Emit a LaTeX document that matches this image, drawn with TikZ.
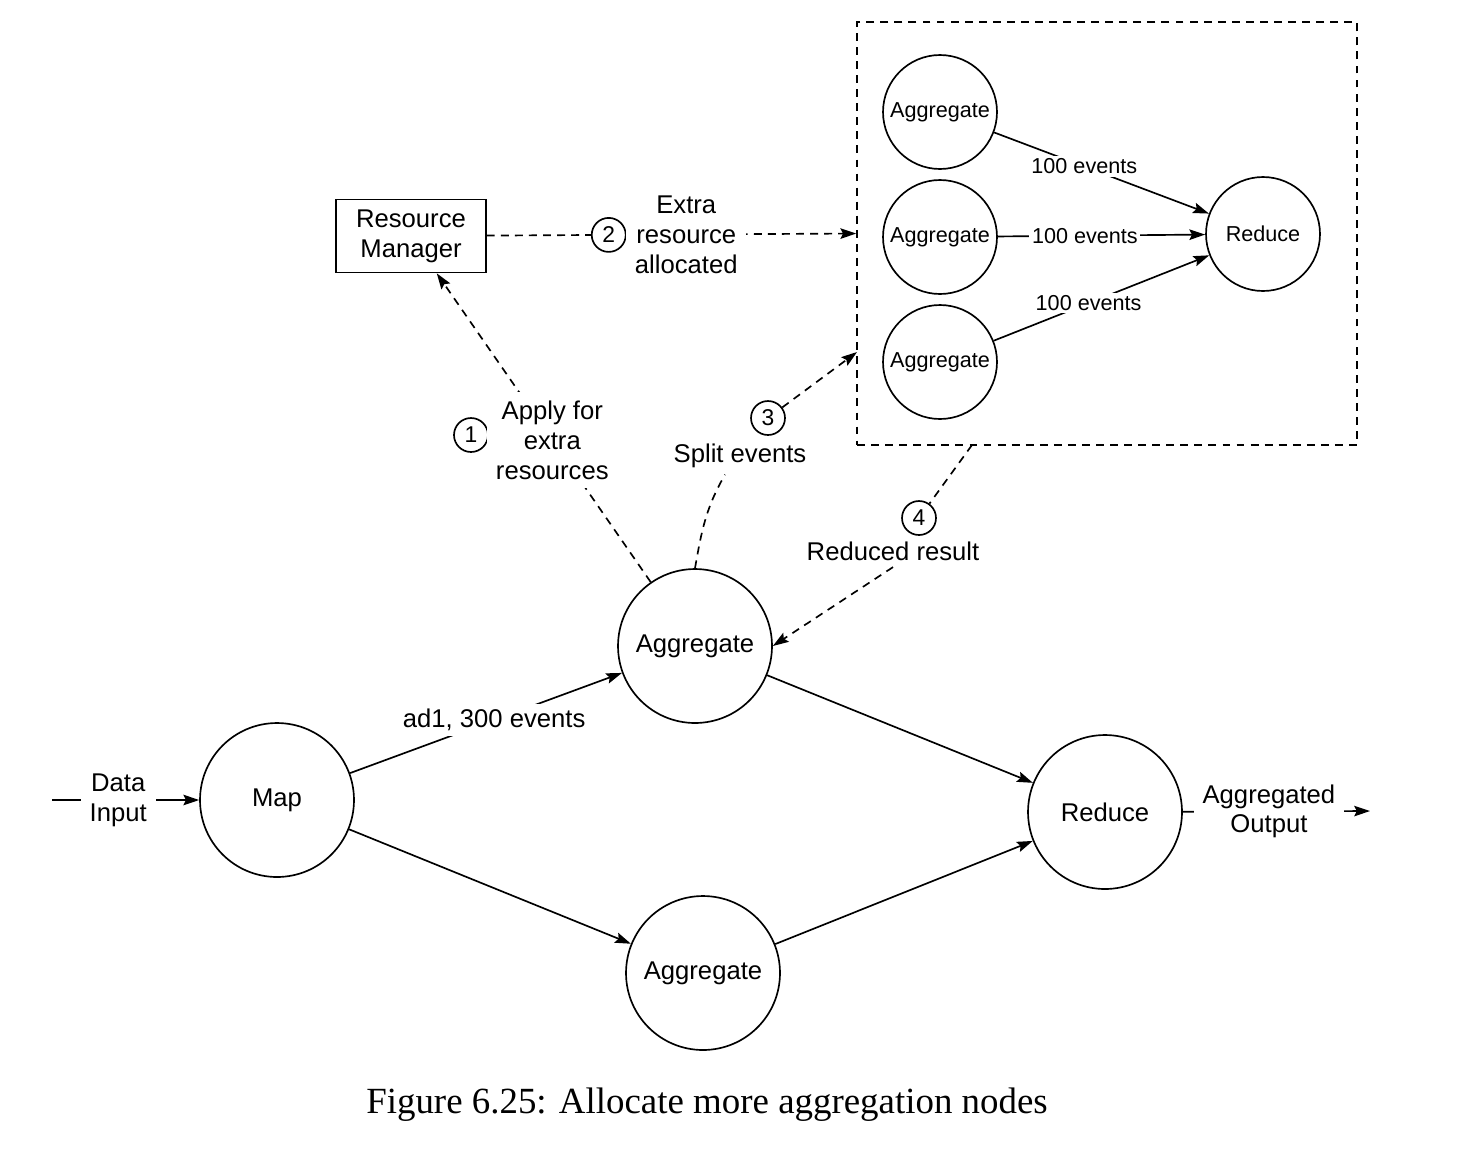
\documentclass[tikz,border=0pt]{standalone}
\usepackage{fontspec}
\setmainfont{Liberation Sans}
\newfontfamily\capfont{Liberation Serif}
\usetikzlibrary{arrows.meta}

\tikzset{
	proc/.style={circle, draw, minimum size=3.08cm, inner sep=0pt},
	subproc/.style={circle, draw, minimum size=2.28cm, inner sep=0pt, font=\fontsize{12.3}{14}\selectfont},
	num/.style={circle, draw, solid, fill=white, minimum size=0.68cm, inner sep=0pt, font=\fontsize{13}{15}\selectfont},
	note/.style={fill=white, align=center, inner sep=5pt},
	evlabel/.style={fill=white, inner sep=1.5pt, font=\fontsize{12.3}{14}\selectfont},
	flow/.style={dash pattern=on 4.5pt off 3.5pt},
}

\begin{document}
\begin{tikzpicture}[x=0.02cm, y=0.02cm, line width=0.95pt, >={Stealth[length=9pt,width=6pt,inset=1.5pt]}, font=\fontsize{14.6}{17}\selectfont]
	\useasboundingbox (0,0) rectangle (1480,-1154);

	% main pipeline
	\node (map)  at ( 277, -800)	[proc]	{Map};
	\node (aggM) at ( 695, -646)	[proc]	{Aggregate};
	\node (aggB) at ( 703, -973)	[proc]	{Aggregate};
	\node (red)  at (1105, -812)	[proc]	{Reduce};
	\coordinate (in)  at (  52, -800);
	\coordinate (out) at (1370, -811);

	% extra resources
	\node (RM) at (411, -236)	[draw, minimum width=3cm, minimum height=1.46cm, align=center]	{Resource\\Manager};
	\node (pool) at (1107, -233.5)	[draw, flow, minimum width=10cm, minimum height=8.46cm]	{};
	\node (agg1) at ( 940, -112)	[subproc]	{Aggregate};
	\node (agg2) at ( 940, -237)	[subproc]	{Aggregate};
	\node (agg3) at ( 940, -362)	[subproc]	{Aggregate};
	\node (red2) at (1263, -234)	[subproc]	{Reduce};
	\coordinate (poolIn)  at (857, -352);
	\coordinate (poolOut) at (972, -445);

	\node (n1) at (471, -435)	[num]	{1};
	\node (n3) at (768, -418)	[num]	{3};
	\node (n4) at (919, -518)	[num]	{4};
	\node (split)   at (740, -456)	{Split events};
	\node (reduced) at (893, -551)	{Reduced result};

	\draw[->] (in) -- node[note, pos=0.45] {Data\\Input} (map);
	\draw[->] (map) -- node[note, pos=0.53, inner sep=3pt] {ad1, 300 events} (aggM);
	\draw[->] (map) -- (aggB);
	\draw[->] (aggM) -- (red);
	\draw[->] (aggB) -- (red);
	\draw[->] (red) -- node[note, pos=0.46] {Aggregated\\Output} (out);

	\draw[->] (agg1) -- node[evlabel, pos=0.42] {100 events} (red2);
	\draw[->] (agg2) -- node[evlabel, pos=0.42] {100 events} (red2);
	\draw[->] (agg3) -- node[evlabel, pos=0.44] {100 events} (red2);

	% steps 1 to 4
	\draw[->, flow] (aggM) -- node[note, pos=0.46] {Apply for\\extra\\resources} (RM);
	\draw[->, flow] (RM) -- node[num, pos=0.33] {2} node[note, pos=0.54] {Extra\\resource\\allocated} (pool.west);
	\draw[flow] (aggM.north) to[out=80, in=-120] ([xshift=-0.3cm]split.south);
	\draw[->, flow] (n3) -- (poolIn);
	\draw[flow] (poolOut) -- (n4);
	\draw[->, flow] (reduced.south) -- (aggM.east);

	\node (caption) at (707, -1105)	[font=\capfont\fontsize{21}{24}\selectfont]	{Figure 6.25: Allocate more aggregation nodes};
\end{tikzpicture}
\end{document}
